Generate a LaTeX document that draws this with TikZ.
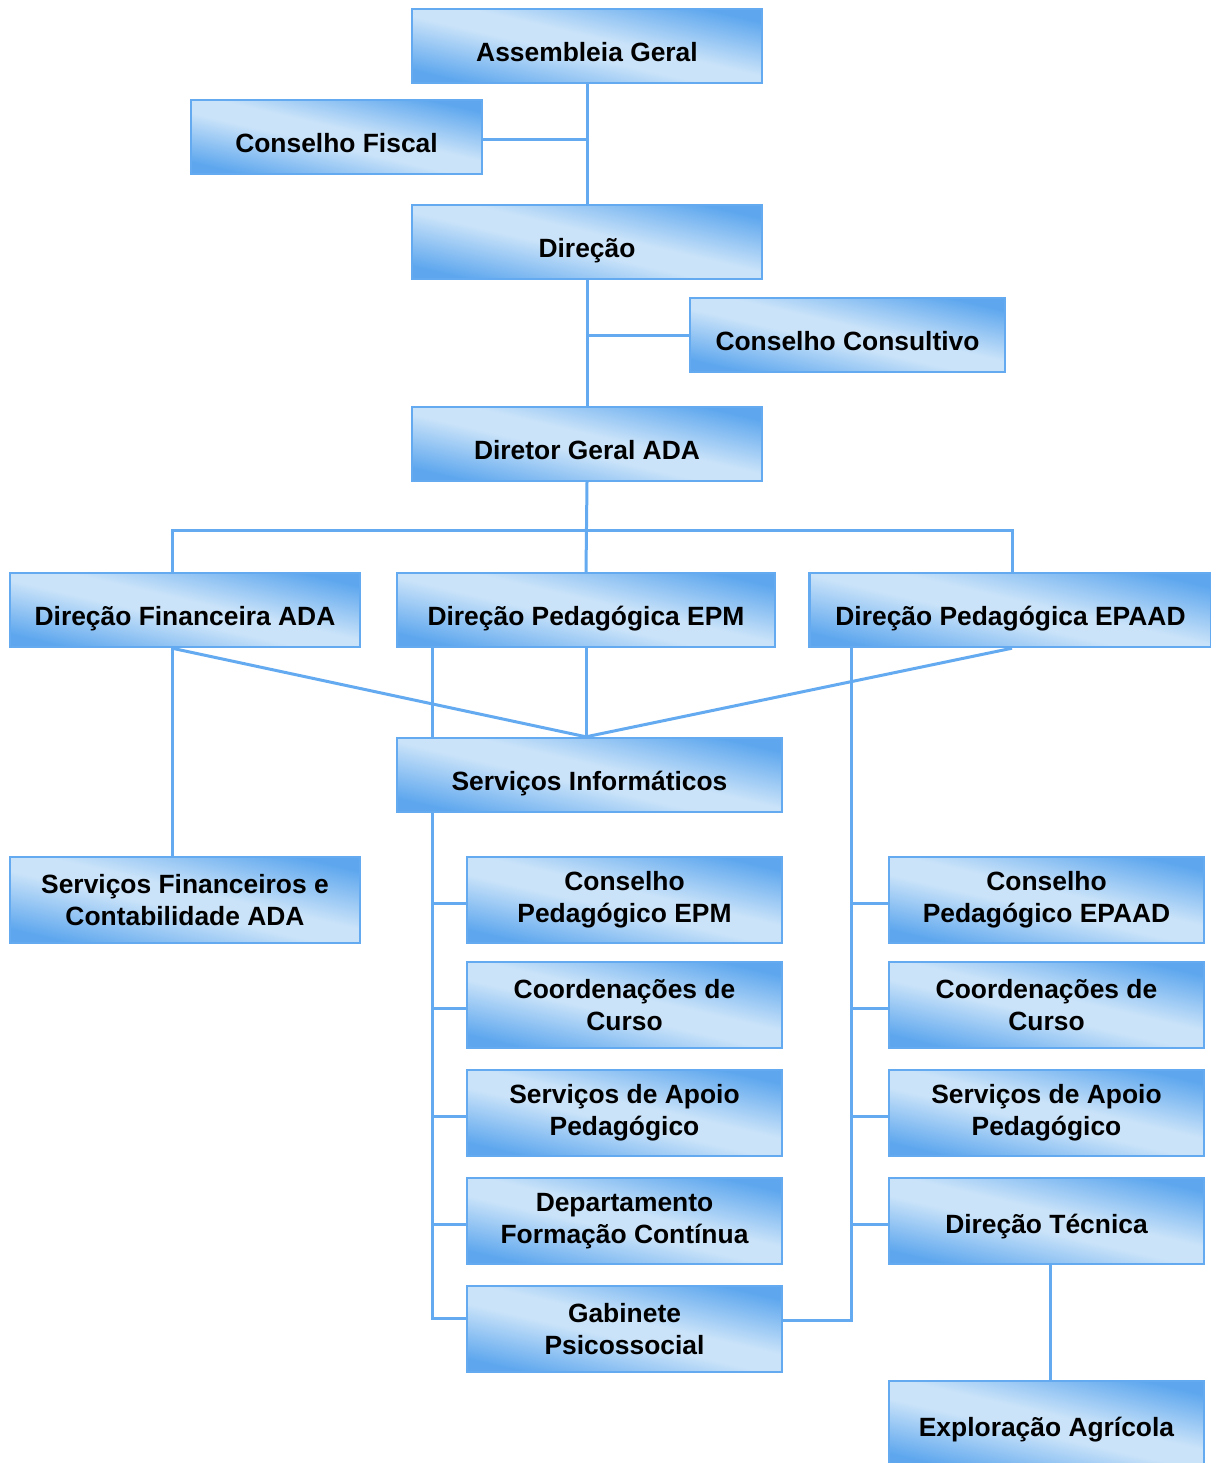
\documentclass[tikz,border=0pt]{standalone}
\usepackage{fontspec}
\setmainfont{Liberation Sans}
\usetikzlibrary{backgrounds}

\definecolor{boxdark}{RGB}{94,167,238}
\definecolor{boxlight}{RGB}{202,227,249}
\definecolor{linkblue}{RGB}{99,170,240}

\pgfdeclareverticalshading{boxshade}{100bp}{color(0bp)=(boxdark);
    color(25bp)=(boxdark); color(46bp)=(boxlight); color(54bp)=(boxlight);
    color(75bp)=(boxdark); color(100bp)=(boxdark)}

\tikzset{
    unit/.style={draw=linkblue, line width=1.2pt, shading=boxshade,
        shading angle=-13,
        font=\bfseries\fontsize{13.2}{16}\selectfont, align=center,
        inner sep=0pt, minimum width=#1, minimum height=37pt},
    single/.style={text height=18.5pt, text depth=3pt},
    tall/.style={minimum height=43pt},
    link/.style={draw=linkblue, line width=1.5pt}
}

\begin{document}
\begin{tikzpicture}[x=0.5pt, y=-0.5pt]
    \useasboundingbox (0,0) rectangle (1211,1463);

    % Top of the chart
    \node[unit=175pt, single] (AG) at (587,46) {Assembleia Geral};
    \node[unit=145.5pt, single] (CF) at (336.5,137) {Conselho Fiscal};
    \node[unit=175pt, single] (Dir) at (587,242) {Direção};
    \node[unit=157.5pt, single] (CC) at (847.5,335) {Conselho Consultivo};
    \node[unit=175pt, single] (DG) at (587,444) {Diretor Geral ADA};

    % The three directions
    \node[unit=175pt, single] (DF) at (185,610) {Direção Financeira ADA};
    \node[unit=189pt, single] (DPM) at (586,610) {Direção Pedagógica EPM};
    \node[unit=201pt, single] (DPA) at (1010.5,610) {Direção Pedagógica EPAAD};
    \node[unit=192.5pt, single] (SI) at (589.5,775) {Serviços Informáticos};
    \node[unit=175pt, tall] (SF) at (185,900) {Serviços Financeiros e\\Contabilidade ADA};

    % EPM column
    \node[unit=157.5pt, tall] (CPM) at (624.5,900) {Conselho\\Pedagógico EPM};
    \node[unit=157.5pt, tall] (CCL) at (624.5,1005) {Coordenações de\\Curso};
    \node[unit=157.5pt, tall] (SAL) at (624.5,1113) {Serviços de Apoio\\Pedagógico};
    \node[unit=157.5pt, tall] (DFC) at (624.5,1221) {Departamento\\Formação Contínua};
    \node[unit=157.5pt, tall] (GP) at (624.5,1329) {Gabinete\\Psicossocial};

    % EPAAD column
    \node[unit=157.5pt, tall] (CPA) at (1046.5,900) {Conselho\\Pedagógico EPAAD};
    \node[unit=157.5pt, tall] (CCR) at (1046.5,1005) {Coordenações de\\Curso};
    \node[unit=157.5pt, tall] (SAR) at (1046.5,1113) {Serviços de Apoio\\Pedagógico};
    \node[unit=157.5pt, tall, text height=15pt, text depth=3pt] (DT) at (1046.5,1221) {Direção Técnica};
    \node[unit=157.5pt, tall, text height=15pt, text depth=3pt] (EA) at (1046.5,1424) {Exploração Agrícola};

    \coordinate (bl) at (172,530);
    \coordinate (br) at (1012,530);
    \coordinate (ls) at (432,647);
    \coordinate (rs) at (851,647);

    \begin{scope}[on background layer]
        % Lines between the boxes
        \draw[link] (AG.south) -- (Dir.north);
        \draw[link] ([yshift=-1pt]CF.east) -- ([yshift=-1pt]CF.east -| AG.south);
        \draw[link] (Dir.south) -- (DG.north);
        \draw[link] (CC.west) -- (CC.west -| Dir.south);
        \draw[link] (DG.south) -- (DPM.north);
        \draw[link] (DF.north -| bl) -- (bl) -- (br) -- (DPA.north -| br);
        \draw[link] (DF.south -| bl) -- (SF.north -| bl);
        \draw[link] (DF.south -| bl) -- (SI.north -| DPM.south);
        \draw[link] (DPA.south -| br) -- (SI.north -| DPM.south);
        \draw[link] (DPM.south) -- (SI.north -| DPM.south);
        \draw[link] (DPM.south -| ls) |- ([yshift=5.5pt]GP.west);
        \draw[link] (DPA.south -| rs) |- ([yshift=4.5pt]GP.east);
        \foreach \n in {CPM,CCL,SAL,DFC}
            \draw[link] ([yshift=-1.5pt]\n.west) -- ([yshift=-1.5pt]\n.west -| ls);
        \foreach \n in {CPA,CCR,SAR,DT}
            \draw[link] ([yshift=-1.5pt]\n.west) -- ([yshift=-1.5pt]\n.west -| rs);
        \draw[link] (DT.south -| 1050,0) -- (EA.north -| 1050,0);
    \end{scope}
\end{tikzpicture}
\end{document}
